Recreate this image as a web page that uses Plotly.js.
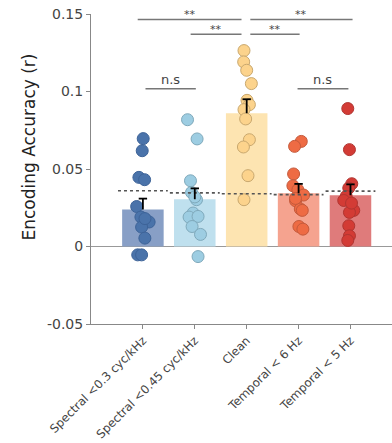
<!DOCTYPE html>
<html><head><meta charset="utf-8">
<script src="https://cdn.plot.ly/plotly-3.0.1.min.js"></script>
<style>html,body{margin:0;padding:0;background:#fff}#chart{width:392px;height:443px}</style>
</head><body><div id="chart"></div>
<script>
const categories = ['Spectral <0.3 cyc/kHz','Spectral <0.45 cyc/kHz','Clean','Temporal < 6 Hz','Temporal < 5 Hz'];
const barMeans = [0.0239, 0.0305, 0.086, 0.0344, 0.0331];
const barSem = [0.007, 0.007, 0.009, 0.006, 0.007];
const chanceLevel = [0.036, 0.0346, 0.034, 0.0335, 0.0357];

const subj1 = [0.0696,0.0618,0.0446,0.0431,0.0258,0.019,0.0158,0.0125,0.0054,-0.0054,-0.0054,0.018];
const jit1  = [0.006,-0.013,-0.077,0.033,-0.12,-0.038,0.12,-0.025,0.038,-0.10,-0.025,0.04];
const subj2 = [0.0818,0.0694,0.0424,0.0349,0.0302,0.0216,0.019,0.0194,0.0129,0.0078,-0.0065,0.032];
const jit2  = [-0.14,0.044,-0.083,-0.063,0.033,-0.033,-0.11,0.063,-0.052,0.11,0.063,0.0];
const subj3 = [0.1264,0.1191,0.1137,0.1051,0.0943,0.0915,0.0883,0.0823,0.0689,0.0642,0.0457,0.0302];
const jit3  = [-0.052,-0.058,0,0.09,0.006,0.052,-0.052,-0.02,0.052,-0.063,0.025,-0.052];
const subj4 = [0.0678,0.0646,0.0468,0.0392,0.0366,0.0332,0.0295,0.0242,0.0233,0.0129,0.0112,0.031];
const jit4  = [0.052,-0.077,-0.096,-0.11,-0.013,0.096,-0.058,0.033,0.071,0.006,0.083,-0.06];
const subj5 = [0.089,0.0625,0.0405,0.0377,0.0323,0.0297,0.0233,0.022,0.0134,0.0069,0.0039,0.028];
const jit5  = [-0.052,-0.02,0.025,-0.033,-0.083,-0.13,0.063,-0.02,-0.033,-0.02,-0.052,0.02];

const sigStart = [0.9, 3.07, 1.92, 3.07, 1.05, 3.98];
const sigEnd   = [2.9, 5.04, 2.9, 4.02, 2.02, 4.96];
const sigLevel = [0.1465, 0.1465, 0.137, 0.137, 0.1017, 0.1017];
const sigLabel = ['**','**','**','**','n.s','n.s'];

const yTicks = [-0.05, 0, 0.05, 0.1, 0.15];
const yTickText = ['-0.05','0','0.05','0.1','0.15'];

const barColors = ['#889fc6','#bfe0ee','#fde4b1','#f5a38f','#df7b7b'];
const dotColors = ['#4a73aa','#9dcde2','#fcd38c','#ee6b44','#d33b35'];
const dotEdges  = ['#3d6398','#7fa9bb','#c9a86e','#c45a3c','#b03531'];

const xs = categories.map((c,i)=>i+1);
const traces = [];
traces.push({type:'bar', x:xs, y:barMeans, width:0.8,
  marker:{color:barColors, line:{width:0}}, hoverinfo:'skip'});
const subs=[subj1,subj2,subj3,subj4,subj5], jits=[jit1,jit2,jit3,jit4,jit5];
subs.forEach((s,i)=>{
  traces.push({type:'scatter', mode:'markers', x:s.map((v,k)=>i+1+jits[i][k]), y:s,
    marker:{size:12, color:dotColors[i], line:{color:dotEdges[i], width:1}}});
});
chanceLevel.forEach((v,i)=>{
  traces.push({type:'scatter', mode:'lines', x:[i+1-0.48,i+1+0.48], y:[v,v],
    line:{color:'#555', width:1.6, dash:'dot'}});
});
// one-sided (upper) error bars: stem + top cap
const stemX=[], stemY=[];
xs.forEach((x,i)=>{ stemX.push(x,x,null); stemY.push(barMeans[i], barMeans[i]+barSem[i], null); });
traces.push({type:'scatter', mode:'lines', x:stemX, y:stemY, line:{color:'#000', width:1.8}});
traces.push({type:'scatter', mode:'markers', x:xs, y:barMeans.map((m,i)=>m+barSem[i]),
  marker:{symbol:'line-ew', size:6, line:{color:'#000', width:1.8}}});

const annotations=[];
sigStart.forEach((s,i)=>{
  traces.push({type:'scatter', mode:'lines', x:[s,sigEnd[i]], y:[sigLevel[i],sigLevel[i]],
    line:{color:'#777', width:1.5}});
  annotations.push({x:(s+sigEnd[i])/2, y:sigLevel[i], xref:'x', yref:'y', text:sigLabel[i],
    showarrow:false, yanchor:'bottom', yshift:sigLabel[i]==='**'?-4:0,
    font:{family:'DejaVu Sans', size:sigLabel[i]==='**'?11:13, color:'#444'}});
});
annotations.push({xref:'paper', yref:'paper', x:-0.245, y:0.57, text:'Encoding Accuracy (r)', textangle:-90,
  showarrow:false, font:{family:'DejaVu Sans', size:17, color:'#222'}});

const layout = {
  width:392, height:443, margin:{l:91, r:0, t:14, b:119},
  paper_bgcolor:'#fff', plot_bgcolor:'#fff', showlegend:false,
  font:{family:'DejaVu Sans'},
  xaxis:{range:[0,5.8], tickvals:xs, ticktext:categories, tickangle:-45,
    showline:true, linecolor:'#888', linewidth:1, ticks:'outside', ticklen:4, tickcolor:'#888',
    showgrid:false, zeroline:false, tickfont:{size:11.8, color:'#444'}, fixedrange:true},
  yaxis:{range:[-0.05,0.15], tickvals:yTicks, ticktext:yTickText,
    showline:true, linecolor:'#888', linewidth:1, ticks:'outside', ticklen:4, tickcolor:'#888',
    showgrid:false, zeroline:true, zerolinecolor:'#999', zerolinewidth:1.3,
    tickfont:{size:14, color:'#444'}, fixedrange:true},
  annotations:annotations
};
Plotly.newPlot('chart', traces, layout, {staticPlot:true});
</script></body></html>
